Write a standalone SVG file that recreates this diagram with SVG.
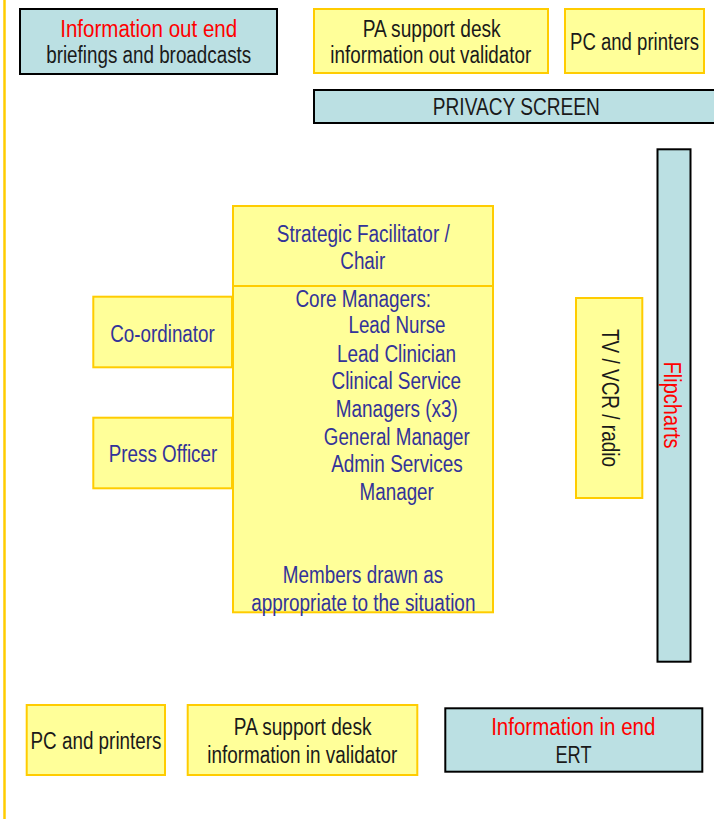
<svg xmlns="http://www.w3.org/2000/svg" width="714" height="819" viewBox="0 0 714 819">
<style>
.y{fill:#FFFF99;stroke:#FFCC00;stroke-width:2}
.b{fill:#BBE0E3;stroke:#000;stroke-width:2}
text{font-family:"Liberation Sans",Arial,sans-serif;font-size:23px;text-anchor:middle}
.k{fill:#1a1a1a}
.r{fill:#FF0000}
.u{fill:#333399}
</style>
<rect width="714" height="819" fill="#fff"/>
<line x1="4.5" y1="0" x2="4.5" y2="819" stroke="#FFCC00" stroke-width="2.5"/>
<g id="connectors"></g>
<g id="info-out">
<rect class="b" x="20" y="9" width="257" height="65"/>
<text class="r" x="148.7" y="36.7" textLength="177" lengthAdjust="spacingAndGlyphs">Information out end</text>
<text class="k" x="148.7" y="63.3" textLength="205" lengthAdjust="spacingAndGlyphs">briefings and broadcasts</text>
</g>
<g id="pa-out">
<rect class="y" x="314" y="9" width="234" height="64"/>
<text class="k" x="431.7" y="36.7" textLength="138" lengthAdjust="spacingAndGlyphs">PA support desk</text>
<text class="k" x="430.8" y="63.3" textLength="201" lengthAdjust="spacingAndGlyphs">information out validator</text>
</g>
<g id="pc-top">
<rect class="y" x="565" y="9" width="139" height="64"/>
<text class="k" x="634.5" y="50" textLength="129" lengthAdjust="spacingAndGlyphs">PC and printers</text>
</g>
<g id="privacy">
<rect class="b" x="314" y="90" width="404" height="33"/>
<text class="k" x="516.3" y="115" textLength="167" lengthAdjust="spacingAndGlyphs">PRIVACY SCREEN</text>
</g>
<g id="flipcharts">
<rect class="b" x="657.5" y="149.3" width="33" height="512.4"/>
<text class="r" transform="translate(664,405) rotate(90)" textLength="87" lengthAdjust="spacingAndGlyphs">Flipcharts</text>
</g>
<g id="tv">
<rect class="y" x="576" y="298" width="66.3" height="200"/>
<text class="k" transform="translate(602,398) rotate(90)" textLength="138" lengthAdjust="spacingAndGlyphs">TV / VCR / radio</text>
</g>
<g id="coordinator">
<rect class="y" x="93.3" y="296.7" width="138.7" height="70.6"/>
<text class="u" x="162.5" y="341.7" textLength="104.6" lengthAdjust="spacingAndGlyphs">Co-ordinator</text>
</g>
<g id="press">
<rect class="y" x="93.3" y="417.7" width="138.7" height="70.6"/>
<text class="u" x="163" y="461.7" textLength="108.4" lengthAdjust="spacingAndGlyphs">Press Officer</text>
</g>
<g id="chair">
<rect class="y" x="233" y="206" width="260" height="80"/>
<text class="u" x="363.3" y="241.7" textLength="173" lengthAdjust="spacingAndGlyphs">Strategic Facilitator /</text>
<text class="u" x="362.8" y="269" textLength="45" lengthAdjust="spacingAndGlyphs">Chair</text>
</g>
<g id="core-managers">
<rect class="y" x="233" y="286" width="260" height="326.3"/>
<text class="u" x="363.3" y="306.7" textLength="135.7" lengthAdjust="spacingAndGlyphs">Core Managers:</text>
<text class="u" x="397" y="333.3" textLength="97" lengthAdjust="spacingAndGlyphs">Lead Nurse</text>
<text class="u" x="396.5" y="361.7" textLength="119" lengthAdjust="spacingAndGlyphs">Lead Clinician</text>
<text class="u" x="396.3" y="389.3" textLength="129.7" lengthAdjust="spacingAndGlyphs">Clinical Service</text>
<text class="u" x="396.8" y="416.7" textLength="122" lengthAdjust="spacingAndGlyphs">Managers (x3)</text>
<text class="u" x="396.8" y="444.7" textLength="146" lengthAdjust="spacingAndGlyphs">General Manager</text>
<text class="u" x="397" y="471.7" textLength="131.7" lengthAdjust="spacingAndGlyphs">Admin Services</text>
<text class="u" x="396.7" y="499.5" textLength="74.3" lengthAdjust="spacingAndGlyphs">Manager</text>
<text class="u" x="363" y="583.3" textLength="160.3" lengthAdjust="spacingAndGlyphs">Members drawn as</text>
<text class="u" x="363.3" y="610.7" textLength="224.3" lengthAdjust="spacingAndGlyphs">appropriate to the situation</text>
</g>
<g id="pc-bottom">
<rect class="y" x="26.7" y="705" width="138.3" height="70"/>
<text class="k" x="96" y="749.3" textLength="131" lengthAdjust="spacingAndGlyphs">PC and printers</text>
</g>
<g id="pa-in">
<rect class="y" x="187.7" y="705" width="229.6" height="70"/>
<text class="k" x="302.7" y="735" textLength="137.7" lengthAdjust="spacingAndGlyphs">PA support desk</text>
<text class="k" x="302.2" y="762.7" textLength="190" lengthAdjust="spacingAndGlyphs">information in validator</text>
</g>
<g id="info-in">
<rect class="b" x="445.3" y="708.3" width="257" height="63.4"/>
<text class="r" x="573.3" y="735" textLength="164.3" lengthAdjust="spacingAndGlyphs">Information in end</text>
<text class="k" x="573.5" y="762.7" textLength="36" lengthAdjust="spacingAndGlyphs">ERT</text>
</g>
</svg>
